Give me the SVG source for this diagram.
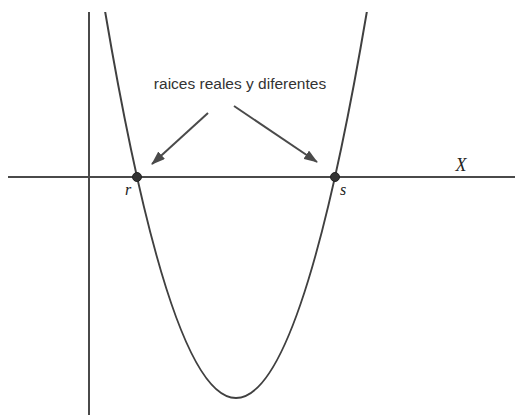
<svg xmlns="http://www.w3.org/2000/svg" width="520" height="415" viewBox="0 0 520 415">
<style>
.ax{stroke:#4a4a4a;stroke-width:2;fill:none}
.cv{stroke:#404040;stroke-width:2;fill:none}
.ar{stroke:#4a4a4a;stroke-width:2;fill:none}
.pt{fill:#333;stroke:#222;stroke-width:1}
.lbl{font-family:"Liberation Serif",serif;font-style:italic;fill:#222}
.txt{font-family:"Liberation Sans",Arial,sans-serif;font-size:15.5px;fill:#333}
</style>
<defs>
<marker id="ah" markerWidth="14" markerHeight="10" refX="13" refY="5" orient="auto" markerUnits="userSpaceOnUse">
<path d="M0,0 L14,5 L0,10 Z" fill="#4a4a4a"/>
</marker>
<clipPath id="cp"><rect x="0" y="12" width="520" height="403"/></clipPath>
</defs>
<g id="axes">
<line class="ax" x1="8" y1="177" x2="515" y2="177"/>
<line class="ax" x1="89" y1="12" x2="89" y2="415"/>
</g>
<g id="parabola" clip-path="url(#cp)">
<path class="cv" d="M103,-1 Q236,797 369,-1"/>
</g>
<g id="connectors">
<line class="ar" x1="208" y1="113" x2="152" y2="164" marker-end="url(#ah)"/>
<line class="ar" x1="234" y1="106" x2="317" y2="162" marker-end="url(#ah)"/>
</g>
<g id="label-text">
<text class="txt" x="240" y="89" text-anchor="middle">raices reales y diferentes</text>
</g>
<g id="point-r">
<circle class="pt" cx="137" cy="177" r="4.5"/>
<text class="lbl" x="128" y="195" font-size="16" text-anchor="middle">r</text>
</g>
<g id="point-s">
<circle class="pt" cx="335" cy="177" r="4.5"/>
<text class="lbl" x="343" y="195" font-size="16" text-anchor="middle">s</text>
</g>
<g id="label-x">
<text class="lbl" x="461" y="171" font-size="18" text-anchor="middle">X</text>
</g>
</svg>
